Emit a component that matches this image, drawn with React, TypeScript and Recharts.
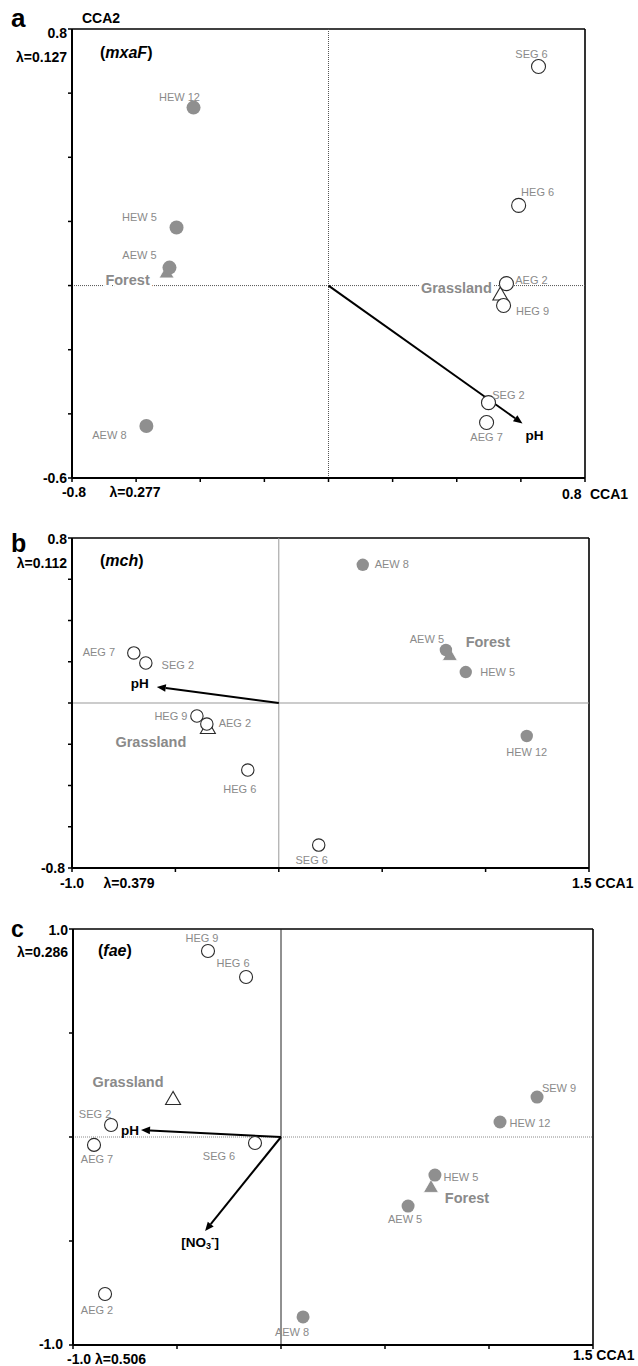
import { ScatterChart, Scatter, XAxis, YAxis, ReferenceLine } from 'recharts';

const FONT = '"Liberation Sans", Arial, Helvetica, sans-serif';
const DOT_GREY = '#8f8f8f';
const TEXT_GREY = '#8a8a8a';

type Site = { site: string; x: number; y: number };
type Vec = { name: string; x: number; y: number };
type Off = Record<string, [number, number]>;
type TickText = { text: string; dx: number; dy: number; anchor?: 'start' | 'middle' | 'end' };

// ---- (a) mxaF ----
const grassA: Site[] = [
  { site: 'SEG 6', x: 0.655, y: 0.683 },
  { site: 'HEG 6', x: 0.593, y: 0.25 },
  { site: 'AEG 2', x: 0.555, y: 0.006 },
  { site: 'HEG 9', x: 0.546, y: -0.062 },
  { site: 'SEG 2', x: 0.499, y: -0.365 },
  { site: 'AEG 7', x: 0.493, y: -0.427 },
];
const forestA: Site[] = [
  { site: 'HEW 12', x: -0.421, y: 0.555 },
  { site: 'HEW 5', x: -0.474, y: 0.181 },
  { site: 'AEW 5', x: -0.496, y: 0.056 },
  { site: 'AEW 8', x: -0.568, y: -0.438 },
];
const centroidsA: Site[] = [
  { site: 'Forest', x: -0.505, y: 0.041 },
  { site: 'Grassland', x: 0.536, y: -0.028 },
];
const vectorsA: Vec[] = [{ name: 'pH', x: 0.605, y: -0.43 }];
const xTicksA = [-0.8, -0.6, -0.4, -0.2, 0, 0.2, 0.4, 0.6, 0.8];
const yTicksA = [-0.6, -0.4, -0.2, 0, 0.2, 0.4, 0.6, 0.8];
const lambdaA = ['λ=0.127', 'λ=0.277'];

// ---- (b) mch ----
const grassB: Site[] = [
  { site: 'AEG 7', x: -0.701, y: 0.243 },
  { site: 'SEG 2', x: -0.643, y: 0.194 },
  { site: 'HEG 9', x: -0.396, y: -0.063 },
  { site: 'AEG 2', x: -0.348, y: -0.102 },
  { site: 'HEG 6', x: -0.15, y: -0.325 },
  { site: 'SEG 6', x: 0.193, y: -0.689 },
];
const forestB: Site[] = [
  { site: 'AEW 8', x: 0.406, y: 0.67 },
  { site: 'AEW 5', x: 0.808, y: 0.257 },
  { site: 'HEW 5', x: 0.904, y: 0.15 },
  { site: 'HEW 12', x: 1.199, y: -0.16 },
];
const centroidsB: Site[] = [
  { site: 'Forest', x: 0.827, y: 0.233 },
  { site: 'Grassland', x: -0.343, y: -0.121 },
];
const vectorsB: Vec[] = [{ name: 'pH', x: -0.59, y: 0.078 }];
const xTicksB = [-1, -0.5, 0, 0.5, 1, 1.5];
const yTicksB = [-0.8, -0.6, -0.4, -0.2, 0, 0.2, 0.4, 0.6, 0.8];
const lambdaB = ['λ=0.112', 'λ=0.379'];

// ---- (c) fae ----
const grassC: Site[] = [
  { site: 'HEG 9', x: -0.351, y: 0.894 },
  { site: 'HEG 6', x: -0.168, y: 0.769 },
  { site: 'SEG 2', x: -0.817, y: 0.058 },
  { site: 'AEG 7', x: -0.899, y: -0.038 },
  { site: 'SEG 6', x: -0.125, y: -0.029 },
  { site: 'AEG 2', x: -0.846, y: -0.755 },
];
const forestC: Site[] = [
  { site: 'SEW 9', x: 1.231, y: 0.192 },
  { site: 'HEW 12', x: 1.053, y: 0.072 },
  { site: 'HEW 5', x: 0.74, y: -0.183 },
  { site: 'AEW 5', x: 0.611, y: -0.332 },
  { site: 'AEW 8', x: 0.106, y: -0.865 },
];
const centroidsC: Site[] = [
  { site: 'Forest', x: 0.721, y: -0.24 },
  { site: 'Grassland', x: -0.519, y: 0.183 },
];
const vectorsC: Vec[] = [
  { name: 'pH', x: -0.673, y: 0.034 },
  { name: 'NO3', x: -0.365, y: -0.452 },
];
const xTicksC = [-1, -0.5, 0, 0.5, 1, 1.5];
const yTicksC = [-1, -0.5, 0, 0.5, 1];
const lambdaC = ['λ=0.286', 'λ=0.506'];

// label offsets (px from marker centre to label centre)
const offA: Off = {
  'SEG 6': [-7, -13], 'HEG 6': [19, -13], 'AEG 2': [25, -4], 'HEG 9': [29, 6],
  'SEG 2': [20, -8], 'AEG 7': [0, 14], 'HEW 12': [-14, -11], 'HEW 5': [-37, -11],
  'AEW 5': [-30, -13], 'AEW 8': [-37, 9], Forest: [-39, 8], Grassland: [-44, -7], pH: [12, 12],
};
const offB: Off = {
  'AEG 7': [-35, -1], 'SEG 2': [32, 2], 'HEG 9': [-26, 0], 'AEG 2': [28, -1],
  'HEG 6': [-8, 19], 'SEG 6': [-7, 15], 'AEW 8': [29, -1], 'AEW 5': [-19, -11],
  'HEW 5': [32, 0], 'HEW 12': [0, 16], Forest: [38, -13], Grassland: [-57, 14], pH: [-17, -3],
};
const offC: Off = {
  'HEG 9': [-6, -13], 'HEG 6': [-13, -14], 'SEG 2': [-16, -11], 'AEG 7': [3, 14],
  'SEG 6': [-36, 13], 'AEG 2': [-8, 16], 'SEW 9': [22, -9], 'HEW 12': [30, 1],
  'HEW 5': [26, 2], 'AEW 5': [-3, 13], 'AEW 8': [-11, 15], Forest: [36, 11],
  Grassland: [-45, -17], pH: [-11, 1], NO3: [-5, 11],
};

function makeDot(open: boolean, off: Off, r: number) {
  return (p: any) => {
    const [dx, dy] = off[p.payload.site] ?? [0, -12];
    return (
      <g>
        {open ? (
          <circle cx={p.cx} cy={p.cy} r={r} fill="#fff" stroke="#2a2a2a" strokeWidth={1.1} />
        ) : (
          <circle cx={p.cx} cy={p.cy} r={r} fill={DOT_GREY} />
        )}
        <text x={p.cx + dx} y={p.cy + dy} textAnchor="middle" dominantBaseline="central"
          fontSize={11} fill={TEXT_GREY} fontFamily={FONT}>{p.payload.site}</text>
      </g>
    );
  };
}

function makeTriangle(off: Off) {
  return (p: any) => {
    const { cx, cy } = p;
    const forest = p.payload.site === 'Forest';
    const [dx, dy] = off[p.payload.site] ?? [0, -14];
    const pts = `${cx},${cy - 7.5} ${cx - 7.5},${cy + 5.5} ${cx + 7.5},${cy + 5.5}`;
    return (
      <g>
        <polygon points={pts} fill={forest ? DOT_GREY : '#fff'} stroke={forest ? '#fff' : '#2a2a2a'}
          strokeWidth={forest ? 0.8 : 1.1} />
        <text x={cx + dx} y={cy + dy} textAnchor="middle" dominantBaseline="central"
          fontSize={14.5} fontWeight="bold" fill={TEXT_GREY} fontFamily={FONT}
          stroke="#fff" strokeWidth={5} paintOrder="stroke">{p.payload.site}</text>
      </g>
    );
  };
}

function makeArrow(name: string, off: Off) {
  return (p: any) => {
    const { x1, y1, x2, y2 } = p;
    const a = Math.atan2(y2 - y1, x2 - x1);
    const L = 9;
    const W = 3.8;
    const bx = x2 - L * Math.cos(a);
    const by = y2 - L * Math.sin(a);
    const nx = -Math.sin(a) * W;
    const ny = Math.cos(a) * W;
    const [dx, dy] = off[name] ?? [0, 0];
    return (
      <g>
        <line x1={x1} y1={y1} x2={bx} y2={by} stroke="#000" strokeWidth={2} />
        <polygon points={`${x2},${y2} ${bx + nx},${by + ny} ${bx - nx},${by - ny}`} fill="#000" />
        <text x={x2 + dx} y={y2 + dy} textAnchor="middle" dominantBaseline="central"
          fontSize={13.5} fontWeight="bold" fill="#000" fontFamily={FONT}>
          {name === 'NO3' ? (
            <>
              <tspan>[NO</tspan>
              <tspan fontSize={9} dy={4}>3</tspan>
              <tspan fontSize={10} dy={-9}>-</tspan>
              <tspan dy={5}>]</tspan>
            </>
          ) : name}
        </text>
      </g>
    );
  };
}

function makeTick(labels: Record<string, TickText[]>) {
  return (p: any) => {
    const items = labels[String(p.payload.value)];
    if (!items) return <g />;
    return (
      <g>
        {items.map((t, i) => (
          <text key={i} x={p.x + t.dx} y={p.y + t.dy} textAnchor={t.anchor ?? 'middle'}
            dominantBaseline="central" fontSize={14} fontWeight="bold" fill="#000" fontFamily={FONT}>
            {t.text}
          </text>
        ))}
      </g>
    );
  };
}

type ZeroStyle = { stroke: string; strokeWidth: number; strokeDasharray?: string };

type PanelProps = {
  height: number;
  margin: { top: number; right: number; bottom: number; left: number };
  xDomain: [number, number];
  yDomain: [number, number];
  xTicks: number[];
  yTicks: number[];
  xTick: (p: any) => any;
  yTick: (p: any) => any;
  grass: Site[];
  forest: Site[];
  centroids: Site[];
  vectors: Vec[];
  off: Off;
  r: number;
  zeroX: ZeroStyle;
  zeroY: ZeroStyle;
  letter: string;
  letterSize: number;
  letterY: number;
  gene: string;
  geneX: number;
  geneY: number;
};

function Panel(props: PanelProps) {
  const { height, margin, xDomain, yDomain, xTicks, yTicks, xTick, yTick, grass, forest,
    centroids, vectors, off, r, zeroX, zeroY, letter, letterSize, letterY, gene, geneX, geneY } = props;
  // axes take 1px of the margin (an axis of size 0 is not drawn)
  return (
    <ScatterChart width={638} height={height}
      margin={{ ...margin, left: margin.left - 1, bottom: margin.bottom - 1 }}>
      <XAxis type="number" dataKey="x" domain={xDomain} ticks={xTicks} interval={0} height={1}
        tickSize={4} tickMargin={2} axisLine={{ stroke: '#000', strokeWidth: 2 }}
        tickLine={{ stroke: '#000', strokeWidth: 1.5 }} tick={xTick} allowDataOverflow />
      <YAxis type="number" dataKey="y" domain={yDomain} ticks={yTicks} interval={0} width={1}
        tickSize={4} tickMargin={2} axisLine={{ stroke: '#000', strokeWidth: 2 }}
        tickLine={{ stroke: '#000', strokeWidth: 1.5 }} tick={yTick} allowDataOverflow />
      <ReferenceLine y={yDomain[1]} stroke="#000" strokeWidth={1.6} />
      <ReferenceLine x={xDomain[1]} stroke="#000" strokeWidth={1.6} />
      <ReferenceLine x={0} {...zeroX} />
      <ReferenceLine y={0} {...zeroY} />
      {vectors.map((v) => (
        <ReferenceLine key={v.name} segment={[{ x: 0, y: 0 }, { x: v.x, y: v.y }]}
          shape={makeArrow(v.name, off)} />
      ))}
      <Scatter data={centroids} shape={makeTriangle(off)} isAnimationActive={false} />
      <Scatter data={grass} shape={makeDot(true, off, r)} isAnimationActive={false} />
      <Scatter data={forest} shape={makeDot(false, off, r)} isAnimationActive={false} />
      <text x={11} y={letterY} fontSize={letterSize} fontWeight="bold" fontFamily={FONT} fill="#000">
        {letter}
      </text>
      <text x={geneX} y={geneY} dominantBaseline="central" fontSize={16} fontWeight="bold"
        fontFamily={FONT} fill="#000">
        (<tspan fontStyle="italic">{gene}</tspan>)
      </text>
    </ScatterChart>
  );
}

const xTickA = makeTick({
  '-0.8': [{ text: '-0.8', dx: 2, dy: 8 }, { text: lambdaA[1], dx: 63, dy: 8 }],
  '0.8': [{ text: '0.8', dx: -23, dy: 10, anchor: 'start' }, { text: 'CCA1', dx: 5, dy: 10, anchor: 'start' }],
});
const yTickA = makeTick({
  '0.8': [
    { text: '0.8', dx: 1, dy: 4, anchor: 'end' },
    { text: lambdaA[0], dx: 1, dy: 28, anchor: 'end' },
    { text: 'CCA2', dx: 16, dy: -11, anchor: 'start' },
  ],
  '-0.6': [{ text: '-0.6', dx: 1, dy: 0, anchor: 'end' }],
});
const xTickB = makeTick({
  '-1': [{ text: '-1.0', dx: 0, dy: 9 }, { text: lambdaB[1], dx: 57, dy: 9 }],
  '1.5': [{ text: '1.5 CCA1', dx: -17, dy: 9, anchor: 'start' }],
});
const yTickB = makeTick({
  '0.8': [{ text: '0.8', dx: 1, dy: 1, anchor: 'end' }, { text: lambdaB[0], dx: 1, dy: 25, anchor: 'end' }],
  '-0.8': [{ text: '-0.8', dx: -1, dy: 0, anchor: 'end' }],
});
const xTickC = makeTick({
  '-1': [{ text: `-1.0 ${lambdaC[1]}`, dx: -6, dy: 8, anchor: 'start' }],
  '1.5': [{ text: '1.5 CCA1', dx: -20, dy: 4, anchor: 'start' }],
});
const yTickC = makeTick({
  '1': [{ text: '1.0', dx: 1, dy: 1, anchor: 'end' }, { text: lambdaC[0], dx: 1, dy: 23, anchor: 'end' }],
  '-1': [{ text: '-1.0', dx: -4, dy: -1, anchor: 'end' }],
});

export default function App() {
  return (
    <div style={{ position: 'absolute', left: 0, top: 0, width: 638, background: '#fff' }}>
      <Panel height={508} margin={{ top: 29, right: 53, bottom: 30, left: 72 }}
        xDomain={[-0.8, 0.8]} yDomain={[-0.6, 0.8]} xTicks={xTicksA} yTicks={yTicksA}
        xTick={xTickA} yTick={yTickA} grass={grassA} forest={forestA} centroids={centroidsA}
        vectors={vectorsA} off={offA} r={7}
        zeroX={{ stroke: '#555', strokeWidth: 1, strokeDasharray: '1 1' }}
        zeroY={{ stroke: '#555', strokeWidth: 1, strokeDasharray: '1 1' }}
        letter="a" letterSize={26} letterY={27} gene="mxaF" geneX={100} geneY={52} />
      <Panel height={387} margin={{ top: 30, right: 49, bottom: 27, left: 72 }}
        xDomain={[-1, 1.5]} yDomain={[-0.8, 0.8]} xTicks={xTicksB} yTicks={yTicksB}
        xTick={xTickB} yTick={yTickB} grass={grassB} forest={forestB} centroids={centroidsB}
        vectors={vectorsB} off={offB} r={6.2}
        zeroX={{ stroke: '#999', strokeWidth: 1 }}
        zeroY={{ stroke: '#999', strokeWidth: 1 }}
        letter="b" letterSize={25} letterY={44} gene="mch" geneX={100} geneY={52} />
      <Panel height={471} margin={{ top: 34, right: 45, bottom: 21, left: 73 }}
        xDomain={[-1, 1.5]} yDomain={[-1, 1]} xTicks={xTicksC} yTicks={yTicksC}
        xTick={xTickC} yTick={yTickC} grass={grassC} forest={forestC} centroids={centroidsC}
        vectors={vectorsC} off={offC} r={6.5}
        zeroX={{ stroke: '#222', strokeWidth: 1 }}
        zeroY={{ stroke: '#888', strokeWidth: 1, strokeDasharray: '1 1' }}
        letter="c" letterSize={23} letterY={42} gene="fae" geneX={98} geneY={55} />
    </div>
  );
}
